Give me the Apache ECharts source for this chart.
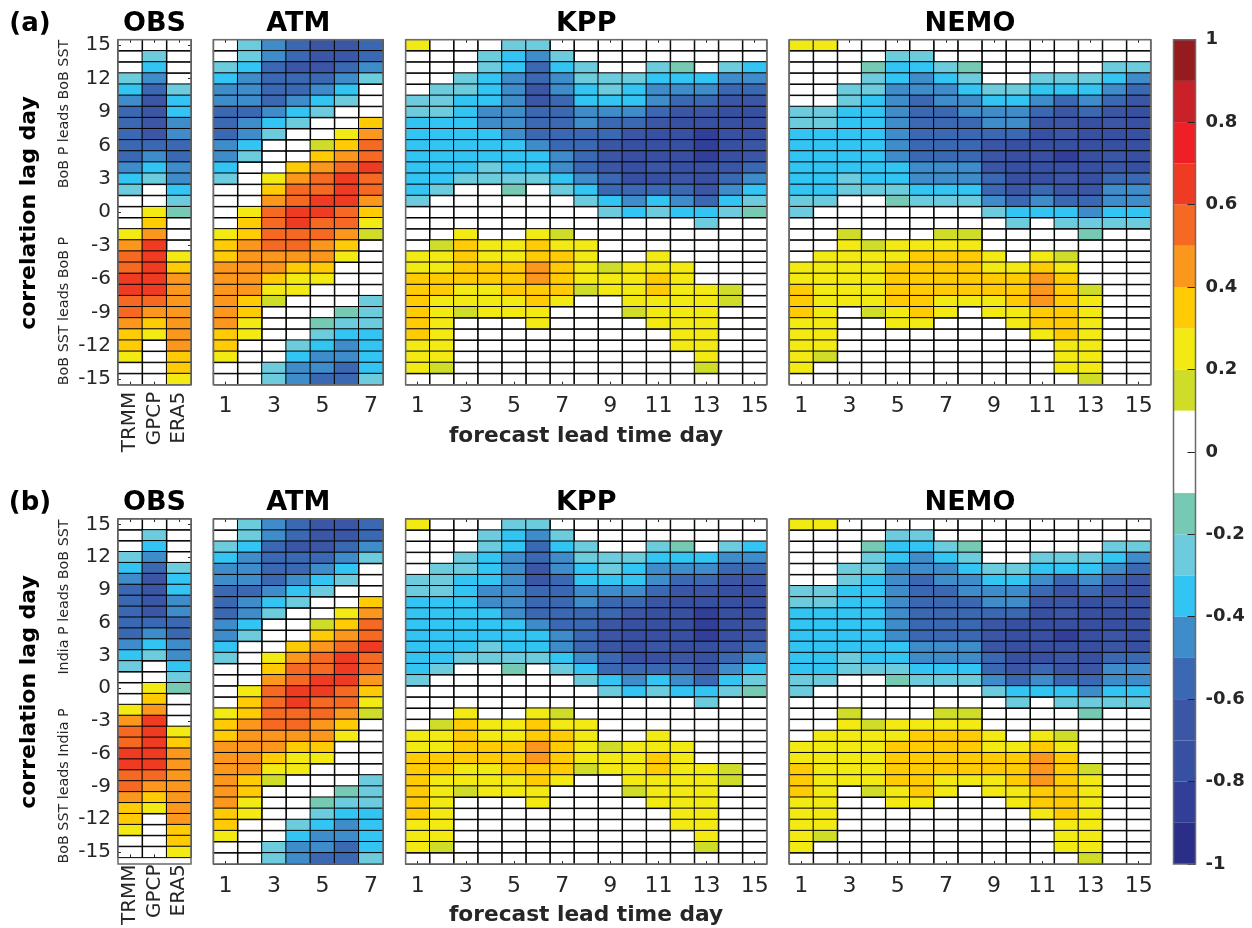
<!DOCTYPE html>
<html lang="en">
<head>
    <meta charset="UTF-8">
    <title>Correlation lag day</title>
    <script src="https://cdn.jsdelivr.net/npm/echarts@6/dist/echarts.min.js"></script>
    <style>
        html, body { margin: 0; padding: 0; background: #fff; }
    </style>
</head>
<body>
    <div id="chart" style="width: 1252px; height: 928px;"></div>
    <script>
        // row order is lag 15 (top) down to lag -15 (bottom)
        const lags = [15,14,13,12,11,10,9,8,7,6,5,4,3,2,1,0,-1,-2,-3,-4,-5,-6,-7,-8,-9,-10,-11,-12,-13,-14,-15];
        const obsNames = ['TRMM', 'GPCP', 'ERA5'];
        const atmDays = [1,2,3,4,5,6,7];
        const oceanDays = [1,2,3,4,5,6,7,8,9,10,11,12,13,14,15];

        // values are the colour class: 3 means r between 0.3 and 0.4, -4 means r between -0.4 and -0.5, 0 means |r| < 0.1
        const obsValues = [
            [0,0,0],[0,-2,0],[0,-3,0],[-2,-4,0],[-3,-5,-2],[-4,-6,-3],[-5,-6,-3],[-5,-6,-4],[-5,-6,-4],[-5,-5,-5],[-5,-4,-5],
            [-4,-3,-4],[-3,-2,-4],[-2,0,-3],[0,0,-2],[0,2,-1],[0,3,0],[2,4,0],[4,6,0],[5,6,2],[5,6,3],
            [6,6,4],[6,6,4],[5,5,4],[5,4,4],[4,3,4],[3,2,4],[3,0,4],[2,0,3],[0,0,3],[0,0,2]
        ];
        const atmValues = [
            [0,-2,-4,-5,-6,-6,-5],
            [0,-2,-4,-5,-6,-6,-5],
            [-2,-3,-5,-6,-6,-5,-4],
            [-3,-4,-5,-5,-5,-4,-2],
            [-4,-4,-5,-5,-4,-3,0],
            [-4,-4,-5,-4,-3,-2,0],
            [-5,-5,-4,-3,-2,0,0],
            [-5,-4,-3,-2,0,0,3],
            [-5,-4,-2,0,0,2,4],
            [-4,-3,0,0,1,3,5],
            [-4,-2,0,0,3,4,5],
            [-3,0,0,3,4,5,6],
            [-2,0,2,4,5,6,5],
            [0,0,3,5,5,6,5],
            [0,0,4,5,6,6,4],
            [0,2,5,6,6,5,3],
            [0,3,5,6,5,5,2],
            [2,3,5,5,5,4,1],
            [3,4,5,5,4,3,0],
            [3,4,4,4,4,2,0],
            [4,4,4,3,3,0,0],
            [4,4,3,2,2,0,0],
            [4,4,2,2,0,0,0],
            [4,3,1,0,0,0,-2],
            [4,3,0,0,0,-1,-2],
            [4,2,0,0,-1,-2,-2],
            [3,2,0,0,-2,-3,-3],
            [3,0,0,-2,-3,-4,-3],
            [2,0,0,-3,-4,-4,-3],
            [0,0,-2,-4,-4,-5,-3],
            [0,0,-2,-4,-5,-5,-2]
        ];
        const kppValues = [
            [2,0,0,0,-2,-2,0,0,0,0,0,0,0,0,0],
            [0,0,0,-2,-3,-4,-2,0,0,0,0,0,0,0,0],
            [0,0,0,-2,-3,-5,-3,-2,0,0,-2,-1,0,-2,-3],
            [0,0,-2,-3,-4,-5,-4,-2,-2,-2,-3,-3,-3,-4,-4],
            [0,-2,-2,-3,-4,-6,-4,-3,-2,-3,-4,-4,-4,-5,-5],
            [-2,-2,-3,-3,-4,-6,-5,-3,-3,-3,-4,-5,-5,-6,-6],
            [-2,-2,-3,-4,-4,-5,-5,-4,-4,-4,-5,-6,-6,-7,-7],
            [-3,-3,-3,-4,-4,-5,-5,-4,-5,-5,-6,-7,-7,-7,-7],
            [-3,-3,-3,-3,-4,-5,-5,-5,-5,-6,-7,-7,-8,-7,-7],
            [-3,-3,-3,-3,-3,-4,-5,-5,-6,-7,-7,-7,-8,-7,-6],
            [-3,-3,-3,-3,-3,-3,-4,-5,-6,-7,-7,-7,-8,-7,-6],
            [-3,-3,-3,-2,-3,-3,-4,-5,-6,-7,-6,-7,-7,-6,-5],
            [-3,-3,-2,-2,-2,-2,-3,-4,-5,-7,-7,-6,-7,-5,-4],
            [-3,-2,0,0,-1,0,-2,-3,-5,-5,-5,-5,-6,-4,-3],
            [-2,0,0,0,0,0,0,-2,-3,-4,-3,-4,-5,-3,-2],
            [0,0,0,0,0,0,0,0,-2,-3,-2,-3,-3,-2,-1],
            [0,0,0,0,0,0,0,0,0,0,0,0,-2,0,0],
            [0,0,2,0,0,2,1,0,0,0,0,0,0,0,0],
            [0,1,3,2,2,3,2,2,0,0,0,0,0,0,0],
            [2,2,3,2,2,3,3,2,0,0,2,0,0,0,0],
            [2,2,3,3,3,4,3,2,1,2,2,2,0,0,0],
            [3,3,3,3,3,4,3,2,2,2,3,2,0,0,0],
            [3,3,2,2,3,3,3,1,2,2,3,2,2,1,0],
            [3,2,2,2,2,3,2,0,0,2,2,2,2,1,0],
            [3,2,1,2,2,2,0,0,0,1,2,2,2,0,0],
            [3,2,0,0,0,2,0,0,0,0,2,2,2,0,0],
            [3,2,0,0,0,0,0,0,0,0,0,2,2,0,0],
            [2,2,0,0,0,0,0,0,0,0,0,2,2,0,0],
            [2,2,0,0,0,0,0,0,0,0,0,0,2,0,0],
            [2,1,0,0,0,0,0,0,0,0,0,0,1,0,0],
            [0,0,0,0,0,0,0,0,0,0,0,0,0,0,0]
        ];
        const nemoValues = [
            [2,2,0,0,0,0,0,0,0,0,0,0,0,0,0],
            [0,0,0,0,-2,-2,0,0,0,0,0,0,0,0,0],
            [0,0,0,-1,-3,-3,-2,-1,0,0,0,0,0,-2,-2],
            [0,0,0,-2,-3,-4,-3,-2,0,0,-2,-2,-2,-3,-4],
            [0,0,-2,-2,-4,-4,-4,-3,-2,-2,-3,-3,-3,-4,-5],
            [0,0,-2,-3,-4,-5,-4,-4,-3,-3,-4,-5,-4,-5,-6],
            [-2,-2,-3,-3,-4,-5,-5,-4,-4,-4,-5,-6,-5,-6,-7],
            [-2,-2,-3,-3,-4,-5,-5,-5,-4,-4,-6,-6,-7,-6,-7],
            [-3,-3,-3,-3,-4,-5,-5,-5,-5,-5,-7,-6,-7,-7,-7],
            [-3,-3,-3,-3,-4,-5,-5,-5,-6,-7,-7,-7,-7,-7,-7],
            [-3,-3,-3,-3,-4,-5,-5,-5,-6,-7,-7,-8,-7,-6,-7],
            [-3,-3,-3,-3,-3,-4,-4,-4,-6,-7,-7,-7,-7,-6,-7],
            [-3,-3,-2,-3,-3,-4,-4,-4,-5,-7,-7,-6,-7,-5,-5],
            [-3,-3,-2,-2,-2,-3,-3,-3,-5,-6,-5,-6,-6,-4,-4],
            [-2,-2,0,0,-1,-2,-2,-2,-4,-5,-4,-5,-5,-4,-4],
            [-2,0,0,0,0,0,0,0,-2,-3,-3,-3,-4,-3,-3],
            [0,0,0,0,0,0,0,0,0,-2,0,-2,-2,-2,-2],
            [0,0,1,0,0,0,1,1,0,0,0,0,-1,0,0],
            [0,0,2,1,2,2,2,2,0,0,0,0,0,0,0],
            [0,2,2,2,2,3,3,3,2,0,2,1,0,0,0],
            [2,2,2,2,3,3,3,3,2,2,3,2,0,0,0],
            [2,2,2,2,3,3,3,3,3,3,4,3,0,0,0],
            [3,2,2,2,3,3,3,3,3,3,4,3,1,0,0],
            [3,2,2,2,3,3,2,2,2,3,4,3,2,0,0],
            [3,2,0,1,2,3,2,0,2,2,3,3,2,0,0],
            [2,2,0,0,2,2,0,0,0,2,3,3,2,0,0],
            [2,2,0,0,0,0,0,0,0,0,2,3,2,0,0],
            [2,2,0,0,0,0,0,0,0,0,0,2,2,0,0],
            [2,1,0,0,0,0,0,0,0,0,0,2,2,0,0],
            [2,0,0,0,0,0,0,0,0,0,0,2,2,0,0],
            [0,0,0,0,0,0,0,0,0,0,0,0,1,0,0]
        ];

        // colour of each 0.1 wide class, from -1 up to 1
        const classColors = [
            '#2A2E88','#323F98','#3850A2','#3B56A4','#3B68B2','#3F8CCB','#32C4F2','#6CCBDD','#76C9B3','#FFFFFF',
            '#FFFFFF','#CFDD28','#F2EA12','#FFCB05','#FA971C','#F56923','#F03B23','#EE2026','#C92127','#961B1E'
        ];

        const textDark = '#262626';
        const fontName = 'DejaVu Sans';

        const columns = [
            {name: 'OBS',  left: 118,   width: 73,    cats: obsNames,  values: obsValues},
            {name: 'ATM',  left: 213.5, width: 169.5, cats: atmDays,   values: atmValues},
            {name: 'KPP',  left: 405.7, width: 361,   cats: oceanDays, values: kppValues},
            {name: 'NEMO', left: 789.3, width: 361.4, cats: oceanDays, values: nemoValues}
        ];
        const rowsOfPanels = [
            {tag: '(a)', top: 39.7, height: 345, upper: 'BoB P leads BoB SST', upperY: 114, lower: 'BoB SST leads BoB P', lowerY: 311, titleY: 24, axisY: 436, nameY: 213},
            {tag: '(b)', top: 519,  height: 345, upper: 'India P leads BoB SST', upperY: 597, lower: 'BoB SST leads India P', lowerY: 786, titleY: 503, axisY: 915, nameY: 692}
        ];

        function classToValue(c) {
            if (c === 0) return 0;
            return (c > 0 ? c + 0.5 : c - 0.5) / 10;
        }

        function label(text, x, y, size, weight, fill, rotation) {
            return {
                type: 'text', x: x, y: y, rotation: rotation || 0, z: 20,
                style: {text: text, fontSize: size, fontWeight: weight, fontFamily: fontName, fill: fill, align: 'center', verticalAlign: 'middle'}
            };
        }

        const grids = [], xAxes = [], yAxes = [], series = [], graphics = [], heatIndex = [];

        rowsOfPanels.forEach(function (row) {
            graphics.push(label(row.tag, 30, row.titleY, 26, 'bold', '#000'));
            graphics.push(label('correlation lag day', 29, row.nameY, 22, 'bold', '#000', Math.PI / 2));
            graphics.push(label(row.upper, 64, row.upperY, 14.3, 'normal', textDark, Math.PI / 2));
            graphics.push(label(row.lower, 64, row.lowerY, 14.3, 'normal', textDark, Math.PI / 2));
            graphics.push(label('forecast lead time day', 586, row.axisY, 21.7, 'bold', textDark));

            columns.forEach(function (col, colIndex) {
                const g = grids.length;
                const isObs = colIndex === 0;
                grids.push({left: col.left, top: row.top, width: col.width, height: row.height});

                const xTickShown = function (i) { return isObs || i % 2 === 0; };
                const yTickShown = function (i) { return lags[i] % 3 === 0; };
                const xAxisBase = {
                    type: 'category', gridIndex: g, data: col.cats, z: 0,
                    axisLine: {show: false},
                    axisTick: {show: true, inside: true, length: 3, alignWithLabel: true, interval: xTickShown, lineStyle: {color: textDark}}
                };
                xAxes.push(Object.assign({}, xAxisBase, {
                    position: 'bottom',
                    axisLabel: {
                        show: true, interval: xTickShown, fontFamily: fontName, fontSize: isObs ? 20 : 22, color: textDark,
                        rotate: isObs ? 90 : 0, margin: isObs ? 7 : 11
                    }
                }));
                xAxes.push(Object.assign({}, xAxisBase, {position: 'top', axisLabel: {show: false}}));

                const yAxisBase = {
                    type: 'category', gridIndex: g, data: lags, inverse: true, z: 0,
                    axisLine: {show: false},
                    axisTick: {show: isObs, inside: true, length: 3, alignWithLabel: true, interval: yTickShown, lineStyle: {color: textDark}}
                };
                yAxes.push(Object.assign({}, yAxisBase, {
                    position: 'left',
                    axisLabel: {show: isObs, interval: yTickShown, fontFamily: fontName, fontSize: 20, color: textDark, margin: 7}
                }));
                yAxes.push(Object.assign({}, yAxisBase, {position: 'right', axisLabel: {show: false}}));

                const cells = [];
                col.values.forEach(function (rowValues, r) {
                    rowValues.forEach(function (c, x) {
                        cells.push([x, r, classToValue(c)]);
                    });
                });
                heatIndex.push(series.length);
                series.push({
                    type: 'heatmap', xAxisIndex: xAxes.length - 2, yAxisIndex: yAxes.length - 2, data: cells, z: 2,
                    itemStyle: {borderColor: '#000', borderWidth: 1},
                    emphasis: {disabled: true}, silent: true, progressive: 0
                });

                graphics.push(label(col.name, col.left + col.width / 2, row.titleY, 27, 'bold', '#000'));
                // panel frame
                graphics.push({
                    type: 'rect', z: 15, silent: true,
                    shape: {x: col.left, y: row.top, width: col.width, height: row.height},
                    style: {fill: 'none', stroke: '#6a6a6a', lineWidth: 1.5}
                });
            });
        });

        // colour bar, one stack that grows outwards from zero on both sides
        const barGrid = grids.length;
        grids.push({left: 1173.5, top: 39.7, width: 22, height: 824.3});
        xAxes.push({type: 'category', gridIndex: barGrid, data: [''], axisLine: {show: false}, axisTick: {show: false}, axisLabel: {show: false}});
        yAxes.push({
            type: 'value', gridIndex: barGrid, position: 'right', min: -1, max: 1, interval: 0.2, z: 5,
            splitLine: {show: false},
            axisLine: {show: false},
            axisTick: {show: true, inside: true, length: 8, lineStyle: {color: textDark}},
            axisLabel: {
                fontFamily: fontName, fontSize: 18, fontWeight: 'bold', color: textDark, margin: 10,
                formatter: function (v) { return String(Math.round(v * 10) / 10); }
            }
        });
        const belowZero = classColors.slice(0, 10).reverse();
        const aboveZero = classColors.slice(10);
        [belowZero, aboveZero].forEach(function (colors, side) {
            colors.forEach(function (color) {
                series.push({
                    type: 'bar', xAxisIndex: xAxes.length - 1, yAxisIndex: yAxes.length - 1,
                    stack: 'bar', barWidth: '100%', silent: true,
                    data: [side === 0 ? -0.1 : 0.1],
                    itemStyle: {color: color}
                });
            });
        });
        graphics.push({
            type: 'rect', z: 15, silent: true,
            shape: {x: 1173.5, y: 39.7, width: 22, height: 824.3},
            style: {fill: 'none', stroke: '#6a6a6a', lineWidth: 1.5}
        });

        // same 0.1 classes as the colour bar; the white ones stay see-through so the ticks show in them
        const pieces = classColors.map(function (color, i) {
            return {
                gte: (i - 10) / 10, lt: (i - 9) / 10,
                color: color === '#FFFFFF' ? 'rgba(255,255,255,0)' : color
            };
        });

        const myChart = echarts.init(document.getElementById('chart'), null, {renderer: 'canvas'});
        myChart.setOption({
            backgroundColor: '#fff',
            animation: false,
            textStyle: {fontFamily: fontName},
            grid: grids,
            xAxis: xAxes,
            yAxis: yAxes,
            visualMap: {type: 'piecewise', show: false, seriesIndex: heatIndex, pieces: pieces, dimension: 2},
            series: series,
            graphic: graphics
        });
    </script>
</body>
</html>
